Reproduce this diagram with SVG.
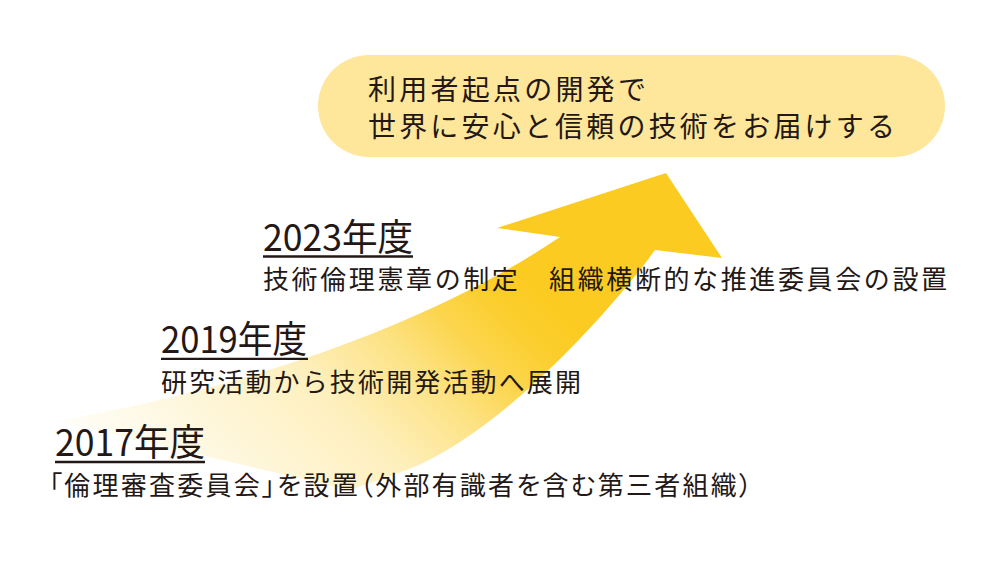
<svg xmlns="http://www.w3.org/2000/svg" width="1000" height="561" viewBox="0 0 1000 561">
  <style>
    .t { font-family: "Noto Sans CJK JP", "Noto Sans", sans-serif; fill: #231815; }
    .yr { font-size: 37px; }
    .sub { font-size: 26px; }
    .goal { font-size: 28px; }
    .ul { stroke: #231815; stroke-width: 2.3; }
  </style>
  <defs>
    <linearGradient id="fade" gradientUnits="userSpaceOnUse" x1="0" y1="400" x2="325" y2="75">
      <stop offset="0" stop-color="#FBCB21" stop-opacity="0"/>
      <stop offset="0.254" stop-color="#FBCB21" stop-opacity="0.14"/>
      <stop offset="0.515" stop-color="#FBCB21" stop-opacity="0.3"/>
      <stop offset="0.688" stop-color="#FBCB21" stop-opacity="0.55"/>
      <stop offset="0.81" stop-color="#FBCB21" stop-opacity="0.8"/>
      <stop offset="0.92" stop-color="#FBCB21" stop-opacity="0.95"/>
      <stop offset="1" stop-color="#FBCB21" stop-opacity="1"/>
    </linearGradient>
  </defs>
  <rect width="1000" height="561" fill="#ffffff"/>
  <g id="connectors">
    <path id="progress-arrow" fill="url(#fade)" d="M560,237 L497,228 L666,173 L722,258 L655,250 C625,292 510,430 407,470 L350,490 L55,421 C240,390 430,325 560,237 Z"/>
  </g>
  <g id="goal">
    <rect x="318" y="55" width="627" height="102" rx="51" ry="51" fill="#FEE69A"/>
    <text class="t goal" x="368" y="100" textLength="278" lengthAdjust="spacing">利用者起点の開発で</text>
    <text class="t goal" x="368" y="136.5" textLength="527" lengthAdjust="spacing">世界に安心と信頼の技術をお届けする</text>
  </g>
  <g id="y2023">
    <text class="t yr" x="263" y="251" textLength="150" lengthAdjust="spacingAndGlyphs">2023年度</text>
    <line class="ul" x1="263" y1="256.5" x2="413" y2="256.5"/>
    <text class="t sub" x="263" y="289" textLength="684" lengthAdjust="spacing">技術倫理憲章の制定　組織横断的な推進委員会の設置</text>
  </g>
  <g id="y2019">
    <text class="t yr" x="161" y="353" textLength="146" lengthAdjust="spacingAndGlyphs">2019年度</text>
    <line class="ul" x1="161" y1="358.8" x2="308" y2="358.8"/>
    <text class="t sub" x="161" y="392" textLength="420" lengthAdjust="spacing">研究活動から技術開発活動へ展開</text>
  </g>
  <g id="y2017">
    <text class="t yr" x="55" y="456" textLength="150" lengthAdjust="spacingAndGlyphs">2017年度</text>
    <line class="ul" x1="55" y1="462" x2="205" y2="462"/>
    <text class="t sub" x="49" y="495" textLength="703" lengthAdjust="spacing" style="font-feature-settings: 'palt';">「倫理審査委員会」を設置（外部有識者を含む第三者組織）</text>
  </g>
</svg>
